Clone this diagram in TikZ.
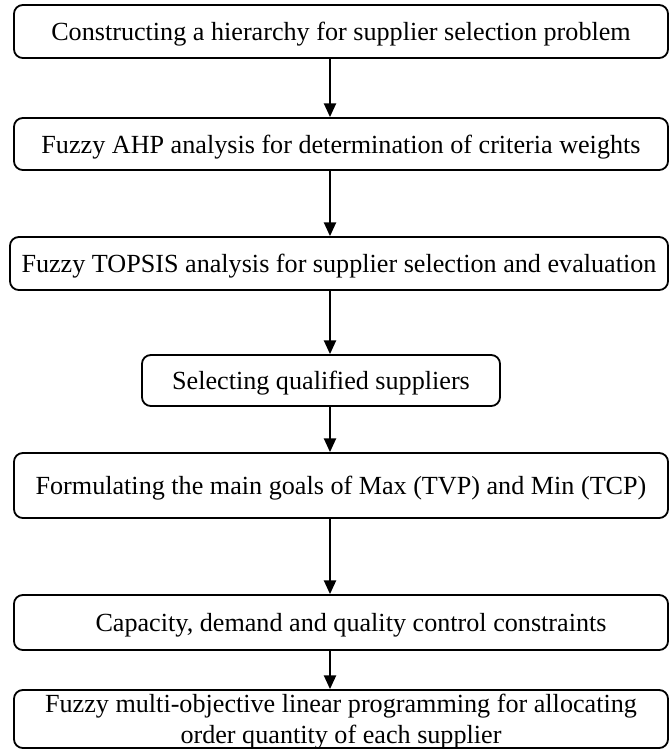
\documentclass[tikz,border=0pt]{standalone}
\usepackage{fontspec}
\setmainfont{Liberation Serif}
\usepackage{tikz}
\usetikzlibrary{
    arrows.meta,
    positioning
}

\begin{document}
\begin{tikzpicture}[
    >={Triangle[length=0.34cm, width=0.3cm]},
    stepbox/.style={draw, line width=1.3pt, rounded corners=0.22cm,
        inner sep=0pt, align=center, text depth=0pt,
        font=\fontsize{18.6}{22}\selectfont},
    flow/.style={->, line width=1.3pt}
]
    \useasboundingbox (0,0) rectangle (16.8,-18.75);

    \coordinate (ax) at (8.25,0);

    \node[stepbox, minimum width=16.35cm, minimum height=1.325cm] (hier) at (8.525,-0.7875)
        {Constructing a hierarchy for supplier selection problem};
    \node[stepbox, minimum width=16.35cm, minimum height=1.3cm] (ahp) at (8.525,-3.6)
        {Fuzzy AHP analysis for determination of criteria weights};
    \node[stepbox, minimum width=16.45cm, minimum height=1.325cm] (topsis) at (8.475,-6.5875)
        {Fuzzy TOPSIS analysis for supplier selection and evaluation};
    \node[stepbox, minimum width=8.95cm, minimum height=1.275cm] (qual) at (8.025,-9.5125)
        {Selecting qualified suppliers};
    \node[stepbox, minimum width=16.35cm, minimum height=1.625cm] (goals) at (8.525,-12.1375)
        {Formulating the main goals of Max (TVP) and Min (TCP)};
    \node[stepbox, minimum width=16.35cm, minimum height=1.375cm] (cons) at (8.525,-15.5625)
        {\hspace{0.5cm}Capacity, demand and quality control constraints};
    \node[stepbox, minimum width=16.35cm, minimum height=1.45cm] (fmolp) at (8.525,-17.975)
        {Fuzzy multi-objective linear programming for allocating\\
         order quantity of each supplier};

    \draw[flow] (hier.south -| ax) -- (ahp.north -| ax);
    \draw[flow] (ahp.south -| ax) -- (topsis.north -| ax);
    \draw[flow] (topsis.south -| ax) -- (qual.north -| ax);
    \draw[flow] (qual.south -| ax) -- (goals.north -| ax);
    \draw[flow] (goals.south -| ax) -- (cons.north -| ax);
    \draw[flow] (cons.south -| ax) -- (fmolp.north -| ax);
\end{tikzpicture}
\end{document}
